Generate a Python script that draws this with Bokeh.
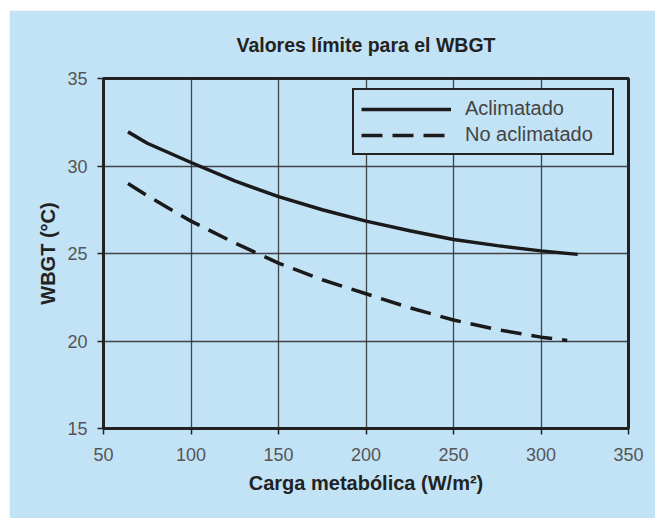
from bokeh.plotting import figure
from bokeh.models import Legend, LegendItem, FixedTicker, Range1d
from bokeh.embed import file_html
from bokeh.resources import INLINE

# Data
x_acl = [64, 75, 100, 125, 150, 175, 200, 225, 250, 275, 300, 321]
y_acl = [31.95, 31.3, 30.2, 29.15, 28.25, 27.5, 26.85, 26.3, 25.8, 25.45, 25.15, 24.95]
x_no = [64, 75, 100, 125, 150, 175, 200, 225, 250, 275, 300, 315]
y_no = [29.0, 28.3, 26.85, 25.6, 24.45, 23.5, 22.7, 21.9, 21.2, 20.65, 20.22, 20.03]
x_ticks = [50, 100, 150, 200, 250, 300, 350]
y_ticks = [15, 20, 25, 30, 35]
series_names = ["Aclimatado", "No aclimatado"]

BG = "#c2e2f6"
DARK = "#222222"
FONT = "Liberation Sans"

p = figure(width=646, height=508, output_backend="svg", toolbar_location=None,
           x_range=Range1d(50, 350), y_range=Range1d(15, 35),
           min_border_left=94, min_border_right=27, min_border_top=68, min_border_bottom=90,
           title="Valores límite para el WBGT")
p.margin = (10, 0, 0, 9)
p.background_fill_color = BG
p.border_fill_color = BG
p.outline_line_color = DARK
p.outline_line_width = 3

p.title.align = "center"
p.title.text_font = FONT
p.title.text_font_size = "19.5px"
p.title.text_font_style = "bold"
p.title.text_color = "#222222"
p.title.vertical_align = "top"
p.title.standoff = 42

for ax in (p.xaxis[0], p.yaxis[0]):
    ax.axis_line_color = DARK
    ax.axis_line_width = 3
    ax.major_tick_line_color = DARK
    ax.major_tick_line_width = 1.5
    ax.major_tick_in = 0
    ax.major_tick_out = 6
    ax.minor_tick_line_color = None
    ax.major_label_text_font = FONT
    ax.major_label_text_font_size = "18px"
    ax.major_label_text_color = "#555555"
    ax.axis_label_text_font = FONT
    ax.axis_label_text_font_size = "20px"
    ax.axis_label_text_font_style = "bold"
    ax.axis_label_text_color = "#222222"

p.xaxis.ticker = FixedTicker(ticks=x_ticks)
p.yaxis.ticker = FixedTicker(ticks=y_ticks)
p.xaxis.axis_label = "Carga metabólica (W/m²)"
p.yaxis.axis_label = "WBGT (°C)"
p.xaxis.major_label_standoff = 13
p.xaxis.axis_label_standoff = 8
p.yaxis.major_label_standoff = 10
p.yaxis.axis_label_standoff = 5

p.xgrid.ticker = FixedTicker(ticks=x_ticks)
p.ygrid.ticker = FixedTicker(ticks=y_ticks)
for g in (p.xgrid[0], p.ygrid[0]):
    g.grid_line_color = "#333333"
    g.grid_line_width = 1.3
    g.grid_line_alpha = 0.9

r1 = p.line(x_acl, y_acl, line_color="#1a1a1a", line_width=3.5)
r2 = p.line(x_no, y_no, line_color="#1a1a1a", line_width=3.5, line_dash="21 10")

legend = Legend(items=[LegendItem(label=series_names[0], renderers=[r1]),
                       LegendItem(label=series_names[1], renderers=[r2])],
                location=(249, 273))
legend.background_fill_color = BG
legend.background_fill_alpha = 1
legend.border_line_color = DARK
legend.border_line_alpha = 1
legend.border_line_width = 2.5
legend.label_text_font = FONT
legend.label_text_font_size = "20px"
legend.label_text_color = "#444444"
legend.glyph_width = 90
legend.glyph_height = 22
legend.label_height = 22
legend.label_width = 140
legend.label_standoff = 14
legend.padding = 7
legend.spacing = 3
legend.margin = 0
p.add_layout(legend, "center")

open("out.html", "w").write(file_html(p, INLINE))
